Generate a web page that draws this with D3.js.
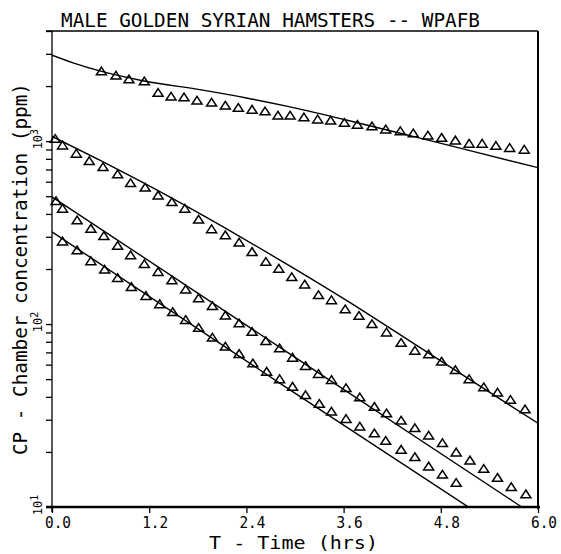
<!DOCTYPE html>
<html><head><meta charset="utf-8">
<script src="https://cdn.jsdelivr.net/npm/d3@7"></script>
<style>
html,body{margin:0;padding:0;background:#fff;}
svg{display:block;}
text{font-family:"DejaVu Sans Mono",monospace;fill:#000;}
</style></head><body>
<svg id="chart" width="561" height="554"></svg>
<script>
// ---- texts ----
const titleText = "MALE GOLDEN SYRIAN HAMSTERS -- WPAFB";
const xLabelText = "T - Time (hrs)";
const yLabelText = "CP - Chamber concentration (ppm)";
const xTicks = [0, 1.2, 2.4, 3.6, 4.8, 6.0];
const xTickLabels = ["0.0", "1.2", "2.4", "3.6", "4.8", "6.0"];
const yMajorTicks = [10, 100, 1000];
const yTickExponents = ["1", "2", "3"];

// ---- observed data (time hrs, ppm) ----
const obsA = [[0.61,2400],[0.79,2275],[0.95,2170],[1.14,2115],[1.31,1830],[1.47,1745],[1.63,1730],[1.79,1660],[1.97,1620],[2.14,1560],[2.30,1515],[2.47,1480],[2.63,1450],[2.79,1375],[2.94,1375],[3.11,1345],[3.28,1310],[3.44,1290],[3.61,1255],[3.77,1225],[3.95,1200],[4.12,1155],[4.30,1130],[4.46,1100],[4.64,1070],[4.81,1040],[4.98,1005],[5.15,965],[5.31,965],[5.48,940],[5.65,915],[5.83,895]];
const obsB = [[0.04,1026],[0.13,944],[0.30,851],[0.46,775],[0.63,719],[0.81,656],[0.97,588],[1.15,555],[1.31,503],[1.48,463],[1.64,426],[1.81,371],[1.97,329],[2.14,305],[2.31,278],[2.47,247],[2.64,218],[2.80,200],[2.96,180],[3.12,164],[3.29,143.5],[3.45,134.6],[3.62,120],[3.79,110.6],[3.95,99.6],[4.13,89.7],[4.31,78.7],[4.48,71.3],[4.65,68.1],[4.81,62.1],[4.98,55.8],[5.15,49.8],[5.33,45.0],[5.50,42.1],[5.66,38.4],[5.84,34.1]];
const obsC = [[0.05,469],[0.13,426],[0.31,368],[0.48,331],[0.64,302],[0.81,267],[0.97,237],[1.14,212],[1.31,192],[1.48,173],[1.65,154],[1.81,138],[1.98,125],[2.14,111],[2.31,100.5],[2.47,90.4],[2.64,80.5],[2.81,73.4],[2.97,65.3],[3.13,58.8],[3.29,53.2],[3.45,49.3],[3.63,44.5],[3.80,39.6],[3.98,35.2],[4.13,32.4],[4.31,29.6],[4.48,26.9],[4.65,24.5],[4.82,22.3],[4.99,19.8],[5.16,17.9],[5.33,16.1],[5.50,14.4],[5.67,12.8],[5.85,11.7]];
const obsD = [[0.13,282],[0.31,252],[0.48,220],[0.65,198],[0.81,178],[0.98,159],[1.16,142],[1.33,128],[1.49,116],[1.65,105],[1.81,95.1],[1.98,84],[2.14,75],[2.31,68.4],[2.48,60.8],[2.65,54.7],[2.81,49.8],[2.97,45.3],[3.13,40.8],[3.30,36.5],[3.45,33.1],[3.63,30.2],[3.80,27.4],[3.98,25.2],[4.12,22.9],[4.31,20.5],[4.48,18.7],[4.65,16.6],[4.82,15.0],[4.99,13.5]];

// ---- model curves (time hrs, ppm) ----
const fitA = [[0,2950],[0.26,2680],[0.59,2420],[1.12,2140],[1.86,1900],[2.4,1722],[2.91,1549],[3.62,1309],[4.42,1072],[5.16,887],[6.0,716]];
const fitB = [[0,1062],[0.59,787],[1.09,604],[1.62,451],[2.32,301],[2.94,207.5],[3.68,131],[4.54,74.5],[5.28,45.9],[6.0,28.7]];
const fitC = [[0,496],[2.94,68.5],[5.8,10]];
const fitD = [[0,319],[2.82,47.3],[5.14,10]];

const observed = [obsA, obsB, obsC, obsD];
const fitted = [fitA, fitB, fitC, fitD];

// ---- layout ----
const svg = d3.select("#chart");
const L = 52, R = 538, T = 31, B = 507;
const x = d3.scaleLinear().domain([0, 6]).range([L, R]);
const y = d3.scaleLog().domain([10, 4000]).range([B, T]);

svg.append("rect").attr("width", 561).attr("height", 554).attr("fill", "#fff");

svg.append("defs").append("clipPath").attr("id", "clip")
  .append("rect").attr("x", L).attr("y", T).attr("width", R - L).attr("height", B - T);

// y ticks (major + minor)
const yTickVals = [];
[10, 100, 1000].forEach(d => { for (let k = 1; k <= 9; k++) { const v = d * k; if (v <= 4000) yTickVals.push(v); } });
const yAxis = svg.append("g").attr("transform", `translate(${L},0)`)
  .call(d3.axisLeft(y).tickValues(yTickVals).tickSize(6).tickFormat(""));
yAxis.select(".domain").remove();
yAxis.selectAll(".tick line").attr("stroke", "#000").attr("stroke-width", 1.3);

// x ticks
const xAxis = svg.append("g").attr("transform", `translate(0,${B})`)
  .call(d3.axisBottom(x).tickValues(xTicks).tickSize(6).tickFormat(""));
xAxis.select(".domain").remove();
xAxis.selectAll(".tick line").attr("stroke", "#000").attr("stroke-width", 1.3);

// frame
svg.append("line").attr("x1", 46).attr("x2", R).attr("y1", T).attr("y2", T).attr("stroke", "#000").attr("stroke-width", 1.6);
svg.append("line").attr("x1", R).attr("x2", R).attr("y1", T).attr("y2", B + 2).attr("stroke", "#000").attr("stroke-width", 2);
svg.append("line").attr("x1", L).attr("x2", L).attr("y1", T).attr("y2", B + 5).attr("stroke", "#000").attr("stroke-width", 1.3);
svg.append("line").attr("x1", 46).attr("x2", R + 2).attr("y1", B).attr("y2", B).attr("stroke", "#000").attr("stroke-width", 2.4);

// model lines
const lineGen = d3.line().x(d => x(d[0])).y(d => y(d[1])).curve(d3.curveMonotoneX);
svg.append("g").attr("clip-path", "url(#clip)")
  .selectAll("path").data(fitted).join("path")
  .attr("d", lineGen).attr("fill", "none").attr("stroke", "#000").attr("stroke-width", 1.4);

// observed triangles
const tri = "M0,-4.5L5,3.2L-5,3.2Z";
svg.append("g").selectAll("g").data(observed).join("g")
  .selectAll("path").data(d => d).join("path")
  .attr("d", tri)
  .attr("transform", d => `translate(${x(d[0])},${y(d[1])})`)
  .attr("fill", "none").attr("stroke", "#000").attr("stroke-width", 1.5);

// x tick labels
svg.append("g").selectAll("text").data(xTicks).join("text")
  .attr("x", d => x(d) - 7).attr("y", 528)
  .attr("font-size", 15)
  .attr("textLength", 26).attr("lengthAdjust", "spacingAndGlyphs")
  .text((d, i) => xTickLabels[i]);

// y tick labels (rotated, 10 with superscript)
const yl = svg.append("g").selectAll("text").data(yMajorTicks).join("text")
  .attr("transform", d => `translate(42,${y(d)}) rotate(-90)`)
  .attr("x", 2).attr("text-anchor", "middle").attr("font-size", 12);
yl.append("tspan").text("10");
yl.append("tspan").attr("dy", -4).attr("font-size", 10).text((d, i) => yTickExponents[i]);

// title
svg.append("text").attr("x", 61).attr("y", 27).attr("font-size", 19)
  .attr("textLength", 419).attr("lengthAdjust", "spacingAndGlyphs").text(titleText);

// x label
svg.append("text").attr("x", 209).attr("y", 549).attr("font-size", 18)
  .attr("textLength", 169).attr("lengthAdjust", "spacingAndGlyphs").text(xLabelText);

// y label
svg.append("text").attr("transform", "translate(27,455) rotate(-90)").attr("font-size", 19)
  .attr("textLength", 372).attr("lengthAdjust", "spacingAndGlyphs").text(yLabelText);
</script>
</body></html>
